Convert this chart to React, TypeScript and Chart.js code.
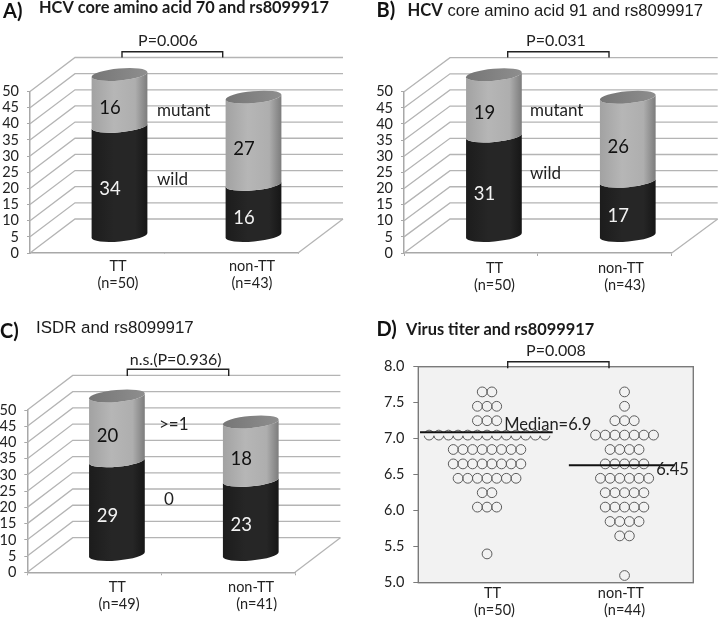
import React, { useEffect, useRef } from "react";
import { Chart, registerables } from "chart.js";

Chart.register(...registerables);

const FONT = "Lato";
const INK = "#222222";

// ---- data ----
const categoriesA = [["TT", "(n=50)"], ["non-TT", "(n=43)"]];
const wildA = [34, 16];
const mutantA = [16, 27];

const categoriesB = [["   TT", "   (n=50)"], ["non-TT ", " (n=43)"]];
const wildB = [31, 17];
const mutantB = [19, 26];

const categoriesC = [["TT", " (n=49)"], ["non-TT", "   (n=41)"]];
const zeroC = [29, 23];
const atLeastOneC = [20, 18];

const titerLevelsTT = [7.65, 7.45, 7.25, 7.05, 6.85, 6.65, 6.45, 6.25, 6.05, 5.4];
const titerCountsTT = [2, 3, 3, 13, 8, 8, 7, 2, 3, 1];
const titerLevelsNonTT = [7.65, 7.45, 7.25, 7.05, 6.85, 6.65, 6.45, 6.25, 6.05, 5.85, 5.65, 5.1];
const titerCountsNonTT = [1, 1, 3, 7, 4, 5, 6, 5, 5, 4, 2, 1];
const medianTT = 7.09;
const medianNonTT = 6.63;

const DARK = "#262626";
const LIGHT = "#aeaeae";

type Seg = { text: string; bold: boolean; fam?: string };
type Panel3D = {
  box: number[]; left: number; right: number; top: number; bottom: number; dx: number; dy: number;
  cats: string[][]; lower: number[]; upper: number[];
  letter: string; letterX: number; letterY: number;
  title: Seg[]; titleX: number; titleY: number; titleSize: number;
  p: string; pX: number; pY: number; brX: number[]; brY: number[];
  notes: { text: string; x: number; y: number }[]; tickLen: number; labelShift: number;
};

const ARIAL = "'Liberation Sans'";

const panelA: Panel3D = {
  box: [0, 0, 360, 305], left: 30, right: 298, top: 91.5, bottom: 253, dx: 45, dy: -34,
  cats: categoriesA, lower: wildA, upper: mutantA,
  letter: "A)", letterX: 3, letterY: 12,
  title: [{ text: "HCV core amino acid 70 and rs8099917", bold: true }], titleX: 39, titleY: 8, titleSize: 16.35,
  p: "P=0.006", pX: 168, pY: 41, brX: [122, 222.7], brY: [51.7, 57.5],
  notes: [{ text: "mutant", x: 157, y: 111 }, { text: "wild", x: 157, y: 180 }], tickLen: 0, labelShift: 21,
};
const panelB: Panel3D = {
  box: [360, 0, 360, 305], left: 44, right: 311.7, top: 91.7, bottom: 253, dx: 46, dy: -34,
  cats: categoriesB, lower: wildB, upper: mutantB,
  letter: "B)", letterX: 16.5, letterY: 11,
  title: [{ text: "HCV", bold: true }, { text: " core amino acid 91 and rs8099917", bold: false, fam: ARIAL }], titleX: 47.5, titleY: 11, titleSize: 16.6,
  p: "P=0.031", pX: 196, pY: 41, brX: [147.7, 249], brY: [51.7, 57.5],
  notes: [{ text: "mutant", x: 170, y: 111 }, { text: "wild", x: 170, y: 174 }], tickLen: 3, labelShift: 18,
};
const panelC: Panel3D = {
  box: [0, 305, 360, 313], left: 27.3, right: 295, top: 105, bottom: 267.3, dx: 45.4, dy: -34.6,
  cats: categoriesC, lower: zeroC, upper: atLeastOneC,
  letter: "C)", letterX: 0, letterY: 27,
  title: [{ text: "ISDR and rs8099917", bold: false, fam: ARIAL }], titleX: 36, titleY: 23.5, titleSize: 16.9,
  p: "n.s.(P=0.936)", pX: 175.7, pY: 55, brX: [127.3, 228.7], brY: [64.3, 71],
  notes: [{ text: ">=1", x: 159, y: 120 }, { text: "0", x: 164, y: 195 }], tickLen: 3, labelShift: 23,
};

function drawText(ctx: CanvasRenderingContext2D, text: string, x: number, y: number, font: string, align: CanvasTextAlign = "left", color = INK) {
  ctx.save();
  ctx.font = font;
  ctx.textAlign = align;
  ctx.textBaseline = "middle";
  ctx.fillStyle = color;
  ctx.fillText(text, x, y);
  ctx.restore();
}

function drawHeader(ctx: CanvasRenderingContext2D, cfg: any) {
  drawText(ctx, cfg.letter, cfg.letterX, cfg.letterY, `bold 20px ${FONT}`, "left", "#111");
  let x = cfg.titleX;
  for (const s of cfg.title) {
    const font = `${s.bold ? "bold " : ""}${cfg.titleSize}px ${s.fam ?? FONT}`;
    drawText(ctx, s.text, x, cfg.titleY, font, "left", "#1a1a1a");
    ctx.save();
    ctx.font = font;
    x += ctx.measureText(s.text).width;
    ctx.restore();
  }
  drawText(ctx, cfg.p, cfg.pX, cfg.pY, `16px ${FONT}`, "center");
  ctx.save();
  ctx.strokeStyle = "#222";
  ctx.lineWidth = 1.4;
  ctx.beginPath();
  ctx.moveTo(cfg.brX[0], cfg.brY[1]);
  ctx.lineTo(cfg.brX[0], cfg.brY[0]);
  ctx.lineTo(cfg.brX[1], cfg.brY[0]);
  ctx.lineTo(cfg.brX[1], cfg.brY[1]);
  ctx.stroke();
  ctx.restore();
}

const cylinderPlugin = (cfg: Panel3D) => ({
  id: "cylinder",
  beforeDatasetsDraw(chart: any) {
    const { ctx, scales } = chart;
    const y = scales.y;
    const { left, right, dx, dy } = cfg;
    ctx.save();
    ctx.strokeStyle = "#b4b4b4";
    ctx.lineWidth = 1.3;
    for (const t of y.ticks) {
      const py = y.getPixelForValue(t.value);
      ctx.beginPath();
      ctx.moveTo(left, py);
      ctx.lineTo(left + dx, py + dy);
      ctx.lineTo(right + dx, py + dy);
      ctx.stroke();
    }
    const y0 = y.getPixelForValue(0);
    ctx.beginPath();
    ctx.moveTo(right, y0);
    ctx.lineTo(right + dx, y0 + dy);
    ctx.stroke();
    ctx.restore();
  },
  beforeDatasetDraw() {
    return false;
  },
  afterDatasetsDraw(chart: any) {
    const { ctx } = chart;
    const { dx, dy } = cfg;
    const rot = -0.09;
    const ry = 6;
    chart.data.datasets.forEach((ds: any, di: number) => {
      chart.getDatasetMeta(di).data.forEach((bar: any, j: number) => {
        const cx = bar.x + dx / 2;
        const rx = bar.width / 2;
        const yb = bar.base + dy / 2;
        const yt = bar.y + dy / 2;
        const g = ctx.createLinearGradient(cx - rx, 0, cx + rx, 0);
        const lightSeg = ds.backgroundColor === LIGHT;
        g.addColorStop(0, lightSeg ? "#a2a2a2" : "#1c1c1c");
        g.addColorStop(0.4, lightSeg ? "#b6b6b6" : ds.backgroundColor);
        g.addColorStop(0.78, ds.backgroundColor);
        g.addColorStop(1, lightSeg ? "#7c7c7c" : "#161616");
        ctx.save();
        ctx.fillStyle = g;
        ctx.beginPath();
        ctx.ellipse(cx, yb, rx, ry, rot, 0, Math.PI, false);
        ctx.ellipse(cx, yt, rx, ry, rot, Math.PI, 0, true);
        ctx.closePath();
        ctx.fill();
        if (di === chart.data.datasets.length - 1) {
          const cap = ctx.createLinearGradient(cx - rx, 0, cx + rx, 0);
          cap.addColorStop(0, "#767676");
          cap.addColorStop(1, "#8e8e8e");
          ctx.fillStyle = cap;
          ctx.beginPath();
          ctx.ellipse(cx, yt, rx, ry, rot, 0, Math.PI * 2);
          ctx.fill();
        }
        ctx.restore();
        drawText(ctx, String(ds.data[j]), cx - 9.5, (yb + yt) / 2 + 8, `18.5px ${FONT}`, "center", lightSeg ? "#111" : "#f2f2f2");
      });
    });
    for (const n of cfg.notes) drawText(ctx, n.text, n.x, n.y, `17px ${FONT}`);
    drawHeader(ctx, cfg);
  },
});

function build3D(canvas: HTMLCanvasElement, cfg: Panel3D) {
  const [, , w, h] = cfg.box;
  return new Chart(canvas, {
    type: "bar",
    data: {
      labels: cfg.cats as any,
      datasets: [
        { label: "lower", data: cfg.lower, backgroundColor: DARK, barPercentage: 0.418, categoryPercentage: 1 },
        { label: "upper", data: cfg.upper, backgroundColor: LIGHT, barPercentage: 0.418, categoryPercentage: 1 },
      ],
    },
    options: {
      animation: false,
      responsive: false,
      layout: { padding: { left: 0, top: cfg.top, right: w - cfg.right, bottom: 0 } },
      plugins: { legend: { display: false }, tooltip: { enabled: false }, title: { display: false } },
      scales: {
        x: {
          stacked: true,
          afterFit: (s: any) => { s.height = h - cfg.bottom; },
          border: { color: "#a8a8a8", width: 1.5 },
          grid: { drawOnChartArea: false, color: "#a8a8a8", tickLength: cfg.tickLen || 1, offset: true },
          ticks: { color: INK, font: { family: FONT, size: 14.5, lineHeight: 1.15 }, padding: 4, maxRotation: 0, autoSkip: false, labelOffset: cfg.labelShift },
        },
        y: {
          stacked: true,
          min: 0,
          max: 50,
          afterFit: (s: any) => { s.width = cfg.left; },
          border: { color: "#a8a8a8", width: 1.5 },
          grid: { drawOnChartArea: false, color: "#a8a8a8", tickLength: 3 },
          ticks: { color: INK, font: { family: FONT, size: 14.5 }, stepSize: 5, padding: 8, autoSkip: false },
        },
      },
    } as any,
    plugins: [cylinderPlugin(cfg)],
  });
}

// ---- panel D ----
const panelD = {
  box: [360, 305, 360, 313], left: 58.3, right: 333.3, top: 61.7, bottom: 277.7,
  letter: "D)", letterX: 16.5, letterY: 25,
  title: [{ text: "Virus titer and rs8099917", bold: true }], titleX: 46, titleY: 25, titleSize: 16.4,
  p: "P=0.008", pX: 196, pY: 46.3, brX: [147.7, 249], brY: [56.7, 63.3],
};
const DOT_STEP = 0.1405;
const rowsToPoints = (center: number, levels: number[], counts: number[]) =>
  levels.flatMap((y, r) =>
    Array.from({ length: counts[r] }, (_, i) => ({ x: center + (i - (counts[r] - 1) / 2) * DOT_STEP, y })),
  );

const labelsD: Record<number, string[]> = { 1: ["   TT", "    (n=50)"], 3: ["non-TT  ", "(n=44)"] };

const dotPluginD = {
  id: "panelD",
  beforeDraw(chart: any) {
    const { ctx } = chart;
    const { left, top, width, height } = chart.chartArea;
    ctx.save();
    ctx.fillStyle = "#f2f2f2";
    ctx.fillRect(left, top, width, height);
    ctx.restore();
  },
  beforeDatasetDraw(chart: any, args: any) {
    if (args.index !== 2) return;
    const { ctx, scales } = chart;
    const y = scales.y.getPixelForValue(medianTT);
    const x0 = scales.x.getPixelForValue(0.025);
    const x1 = scales.x.getPixelForValue(1.955);
    ctx.save();
    ctx.fillStyle = "#f2f2f2";
    ctx.fillRect(x0, y, x1 - x0, 3.5);
    ctx.restore();
  },
  afterDraw(chart: any) {
    const { ctx, scales } = chart;
    const { left, top, width, height } = chart.chartArea;
    ctx.save();
    ctx.strokeStyle = "#7a7a7a";
    ctx.lineWidth = 1.4;
    ctx.strokeRect(left, top, width, height);
    ctx.restore();
    drawText(ctx, "Median=6.9", scales.x.getPixelForValue(1.25), scales.y.getPixelForValue(7.19), `16.5px ${FONT}`);
    drawText(ctx, "6.45", scales.x.getPixelForValue(3.46), scales.y.getPixelForValue(6.57), `16.5px ${FONT}`);
    drawHeader(ctx, panelD);
  },
};

function buildD(canvas: HTMLCanvasElement) {
  const [, , w, h] = panelD.box;
  const dot = { order: 2, showLine: false, pointRadius: 4.9, pointBorderWidth: 1, pointBorderColor: "#5c5c5c", pointBackgroundColor: "rgba(0,0,0,0)" };
  const rule = { order: 1, showLine: true, borderColor: "#111", borderWidth: 2, pointRadius: 0 };
  return new Chart(canvas, {
    type: "scatter",
    data: {
      datasets: [
        { label: "TT", data: rowsToPoints(1, titerLevelsTT, titerCountsTT), ...dot },
        { label: "non-TT", data: rowsToPoints(3, titerLevelsNonTT, titerCountsNonTT), ...dot },
        { label: "Median TT", data: [{ x: 0.025, y: medianTT }, { x: 1.955, y: medianTT }], ...rule },
        { label: "Median non-TT", data: [{ x: 2.19, y: medianNonTT }, { x: 3.73, y: medianNonTT }], ...rule },
      ],
    },
    options: {
      animation: false,
      responsive: false,
      layout: { padding: { left: 0, top: panelD.top, right: w - panelD.right, bottom: 0 } },
      plugins: { legend: { display: false }, tooltip: { enabled: false } },
      scales: {
        x: {
          type: "linear",
          min: 0,
          max: 4,
          afterBuildTicks: (s: any) => { s.ticks = [{ value: 1 }, { value: 3 }]; },
          afterFit: (s: any) => { s.height = h - panelD.bottom; },
          border: { display: false },
          grid: { display: false, drawTicks: false },
          ticks: { color: INK, font: { family: FONT, size: 14.5, lineHeight: 1.2 }, padding: 2, maxRotation: 0, autoSkip: false, callback: (v: number) => labelsD[v] },
        },
        y: {
          min: 5,
          max: 8,
          afterFit: (s: any) => { s.width = panelD.left; },
          border: { display: false },
          grid: { drawOnChartArea: false, color: "#7a7a7a", tickLength: 5 },
          ticks: { color: INK, font: { family: FONT, size: 14.5 }, stepSize: 0.5, padding: 9, callback: (v: number) => v.toFixed(1) },
        },
      },
    } as any,
    plugins: [dotPluginD],
  });
}

function Panel({ box, make }: { box: number[]; make: (c: HTMLCanvasElement) => Chart }) {
  const ref = useRef<HTMLCanvasElement>(null);
  useEffect(() => {
    const c = make(ref.current!);
    return () => c.destroy();
  }, []);
  return (
    <canvas
      ref={ref}
      width={box[2]}
      height={box[3]}
      style={{ position: "absolute", left: box[0], top: box[1], width: box[2], height: box[3], display: "block" }}
    />
  );
}

export default function App() {
  return (
    <div style={{ position: "absolute", left: 0, top: 0, width: 720, height: 618, background: "#fff", overflow: "hidden" }}>
      <Panel box={panelA.box} make={(c) => build3D(c, panelA)} />
      <Panel box={panelB.box} make={(c) => build3D(c, panelB)} />
      <Panel box={panelC.box} make={(c) => build3D(c, panelC)} />
      <Panel box={panelD.box} make={buildD} />
    </div>
  );
}
